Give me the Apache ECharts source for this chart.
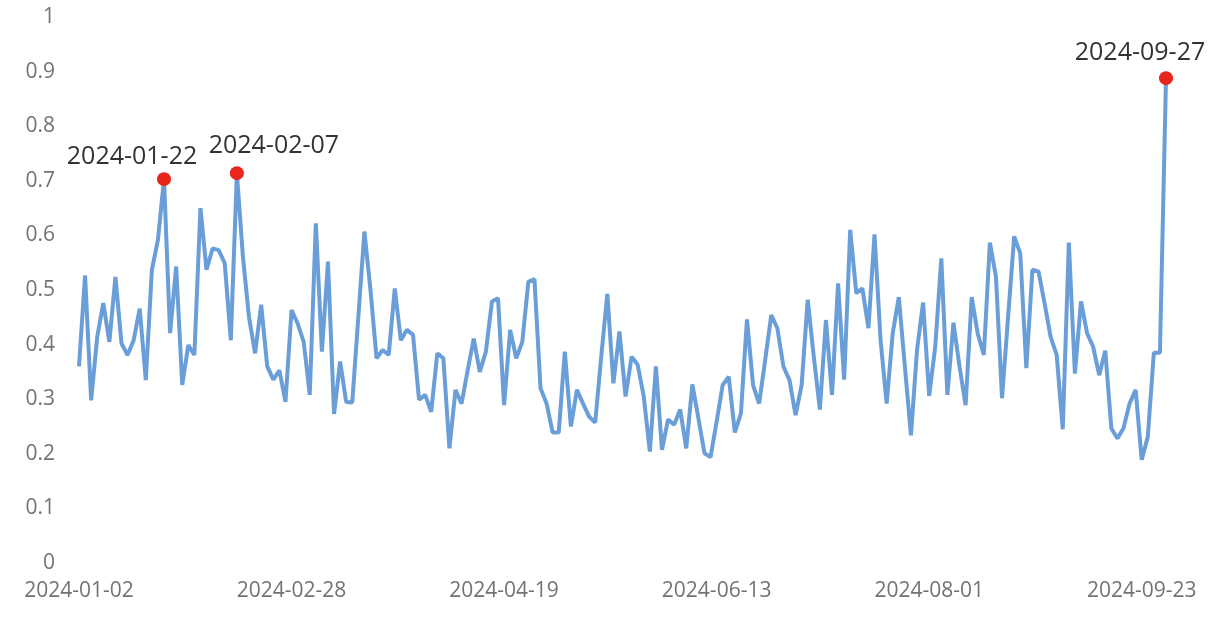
<!DOCTYPE html>
<html>
<head>
<meta charset="utf-8">
<script src="https://cdn.jsdelivr.net/npm/echarts@6/dist/echarts.min.js"></script>
<style>
  html, body { margin: 0; padding: 0; background: #fff; }
  #chart { width: 1230px; height: 618px; }
</style>
</head>
<body>
<div id="chart"></div>
<script>
// trading calendar (A-share), weekdays minus exchange holidays
const startDate = "2024-01-02";
const endDate = "2024-09-27";
const holidays = ["2024-02-09", "2024-02-12", "2024-02-13", "2024-02-14", "2024-02-15", "2024-02-16",
  "2024-04-04", "2024-04-05", "2024-05-01", "2024-05-02", "2024-05-03", "2024-06-10",
  "2024-09-16", "2024-09-17"];

// daily values
const values = [
  0.36, 0.527, 0.298, 0.414, 0.476, 0.405, 0.524, 0.402, 0.381, 0.408,
  0.466, 0.335, 0.537, 0.592, 0.703, 0.421, 0.543, 0.326, 0.399, 0.381,
  0.65, 0.537, 0.576, 0.573, 0.549, 0.408, 0.714, 0.56, 0.45, 0.384,
  0.473, 0.36, 0.336, 0.353, 0.295, 0.463, 0.439, 0.405, 0.308, 0.622,
  0.387, 0.552, 0.273, 0.369, 0.295, 0.294, 0.451, 0.607, 0.5, 0.375,
  0.39, 0.381, 0.503, 0.408, 0.427, 0.418, 0.299, 0.308, 0.277, 0.384,
  0.375, 0.21, 0.317, 0.292, 0.353, 0.411, 0.35, 0.387, 0.479, 0.485,
  0.289, 0.427, 0.375, 0.405, 0.515, 0.52, 0.32, 0.292, 0.239, 0.239,
  0.387, 0.25, 0.317, 0.292, 0.268, 0.257, 0.378, 0.493, 0.329, 0.424,
  0.305, 0.378, 0.363, 0.305, 0.204, 0.36, 0.207, 0.263, 0.253, 0.281,
  0.21, 0.327, 0.265, 0.201, 0.194, 0.259, 0.326, 0.341, 0.239, 0.274,
  0.446, 0.326, 0.292, 0.372, 0.454, 0.43, 0.36, 0.335, 0.271, 0.326,
  0.482, 0.378, 0.281, 0.445, 0.308, 0.512, 0.336, 0.61, 0.494, 0.503,
  0.43, 0.602, 0.408, 0.292, 0.421, 0.487, 0.36, 0.234, 0.39, 0.477,
  0.306, 0.396, 0.558, 0.308, 0.44, 0.36, 0.289, 0.487, 0.42, 0.381,
  0.587, 0.524, 0.302, 0.451, 0.598, 0.567, 0.357, 0.537, 0.534, 0.476,
  0.414, 0.381, 0.245, 0.587, 0.347, 0.479, 0.421, 0.396, 0.344, 0.389,
  0.247, 0.228, 0.247, 0.292, 0.317, 0.189, 0.231, 0.385, 0.385, 0.888
];

// highlighted days
const peakDates = ["2024-01-22", "2024-02-07", "2024-09-27"];
const peakOffsets = [[-32, 0], [37, -5], [-26, -3]];

function tradingDays(from, to, skip) {
  const out = [];
  const d = new Date(from + "T00:00:00Z");
  const end = new Date(to + "T00:00:00Z");
  while (d <= end) {
    const s = d.toISOString().slice(0, 10);
    const wd = d.getUTCDay();
    if (wd !== 0 && wd !== 6 && skip.indexOf(s) < 0) out.push(s);
    d.setUTCDate(d.getUTCDate() + 1);
  }
  return out;
}

const dates = tradingDays(startDate, endDate, holidays);

const peaks = peakDates.map((d, i) => ({
  value: [d, values[dates.indexOf(d)]],
  label: { offset: peakOffsets[i] }
}));

const font = "'Open Sans', 'Liberation Sans', sans-serif";

const myChart = echarts.init(document.getElementById("chart"));
const option = {
  animation: false,
  grid: {
    left: 79,
    right: 64,
    top: 17,
    bottom: 55,
    containLabel: false
  },
  xAxis: {
    type: "category",
    boundaryGap: false,
    data: dates,
    axisLine: { show: false },
    axisTick: { show: false },
    splitLine: { show: false },
    axisLabel: {
      interval: 34,
      margin: 18,
      color: "#737373",
      fontSize: 21,
      fontFamily: font
    }
  },
  yAxis: {
    type: "value",
    min: 0,
    max: 1,
    interval: 0.1,
    axisLine: { show: false },
    axisTick: { show: false },
    splitLine: { show: false },
    axisLabel: {
      margin: 24,
      color: "#737373",
      fontSize: 21,
      fontFamily: font
    }
  },
  series: [
    {
      type: "line",
      data: values,
      showSymbol: false,
      symbol: "none",
      lineStyle: { color: "#6a9ed8", width: 4 },
      z: 2
    },
    {
      type: "scatter",
      data: peaks,
      symbolSize: 14,
      itemStyle: { color: "#e8261c", opacity: 1 },
      label: {
        show: true,
        position: "top",
        distance: 3,
        formatter: (p) => p.value[0],
        color: "#333333",
        fontSize: 25,
        fontFamily: font
      },
      z: 3
    }
  ]
};
myChart.setOption(option);
</script>
</body>
</html>
